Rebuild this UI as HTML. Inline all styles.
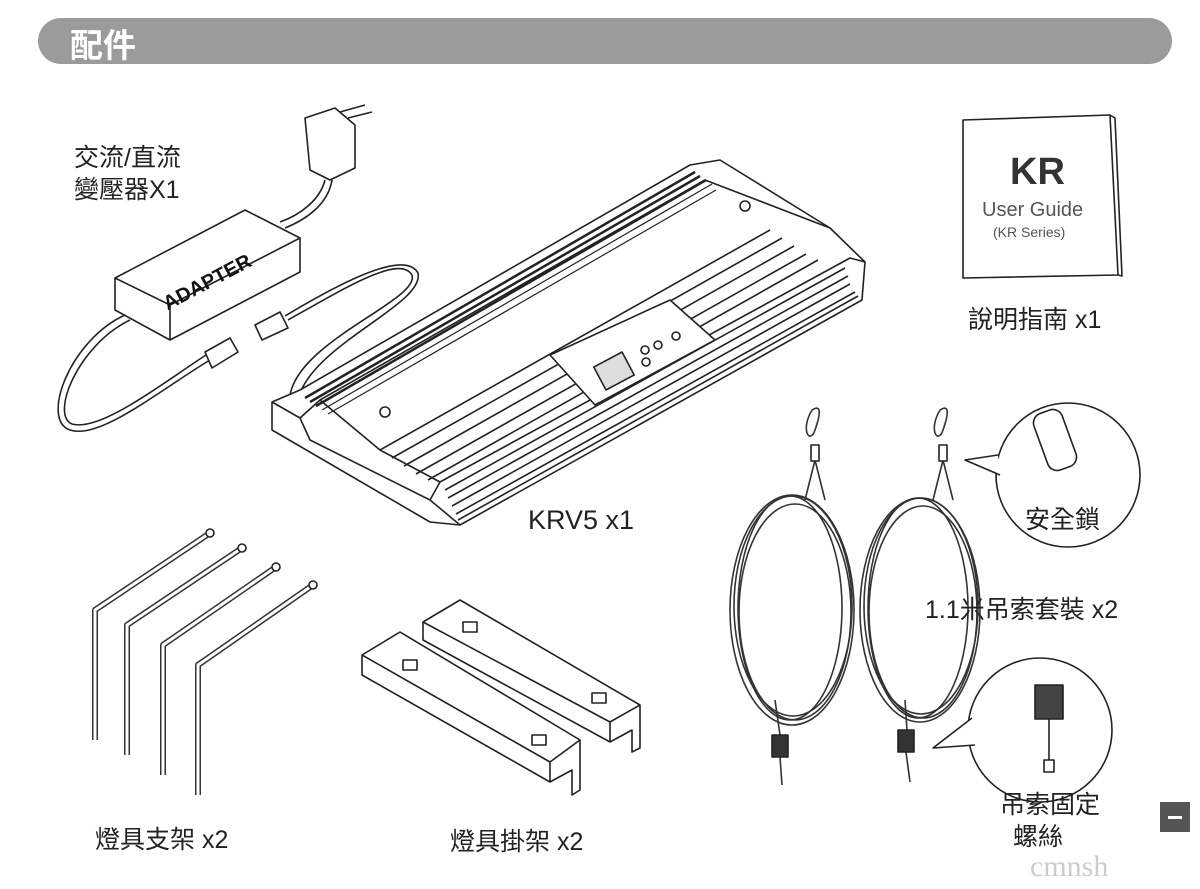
<!DOCTYPE html>
<html><head><meta charset="utf-8"><style>
html,body{margin:0;padding:0;background:#fff}
body{width:1200px;height:889px;position:relative;overflow:hidden;font-family:"Liberation Sans","Noto Sans CJK TC",sans-serif}
.t{position:absolute;color:#222;font-size:25px;white-space:nowrap}
</style></head><body>
<div style="position:absolute;left:38px;top:18px;width:1134px;height:46px;border-radius:23px;background:#9b9b9b"></div>
<div class="t" style="left:70px;top:19px;color:#fff;font-size:33px;font-weight:bold">配件</div>

<svg width="1200" height="889" style="position:absolute;left:0;top:0" fill="none" stroke="#222" stroke-width="1.6" stroke-linejoin="round">
<!-- plug -->
<path d="M305 118 L335 108 L355 125 L355 168 L330 180 L310 170 Z" fill="#fff"/>
<path d="M340 112 L365 105 M348 118 L372 112"/>
<path d="M325 180 C320 200 300 215 280 222"/>
<path d="M332 180 C328 205 305 220 285 228"/>
<!-- adapter -->
<path d="M115 278 L245 210 L300 238 L300 272 L170 340 L115 310 Z" fill="#fff"/>
<path d="M115 278 L170 305 L300 238 M170 305 L170 340"/>
<text x="150" y="290" transform="rotate(-28 200 265)" font-size="20" font-weight="bold" fill="#111" stroke="none" font-family="Liberation Sans">ADAPTER</text>
<path d="M125 315 C70 340 40 420 70 430 C100 440 160 390 210 360"/>
<path d="M130 320 C78 345 50 415 72 424 C100 432 160 385 206 355"/>
<path d="M205 352 L230 338 L238 352 L212 368 Z" fill="#fff"/>
<path d="M255 325 L280 312 L288 328 L262 340 Z" fill="#fff"/>
<path d="M288 320 C350 285 400 255 412 275 C420 300 300 340 290 395"/>
<path d="M285 316 C345 280 405 250 418 273 C425 305 310 345 298 400"/>
<!-- light body -->
<path d="M272 402 L300 390 L690 165 L720 160 L830 228 L865 262 L862 300 L460 525 L430 522 L272 430 Z" fill="#fff"/>
<path d="M272 402 L300 418 L310 440 L430 500 L460 525"/>
<path d="M300 418 L320 400 L705 180 L830 228"/>
<path d="M430 500 L440 482 L850 258 L865 262 M440 482 L380 450 L320 400"/>
<path d="M445 490 L845 268 M448 498 L848 276 M452 506 L850 284 M456 514 L855 292 M458 520 L858 296"/>
<path d="M380 450 L770 230 M392 458 L782 238 M404 466 L794 246 M416 474 L806 254 M428 480 L818 260"/>
<path d="M305 398 L695 172 M310 402 L700 176 M316 406 L706 180" stroke-width="2.5"/>
<path d="M322 410 L712 184 M328 414 L716 190" stroke-width="1.2"/>
<path d="M550 355 L670 300 L715 340 L595 405 Z" fill="#fff"/>
<rect x="598" y="358" width="32" height="26" transform="rotate(-28 614 371)" fill="#ddd"/>
<circle cx="645" cy="350" r="4"/><circle cx="658" cy="345" r="4"/><circle cx="676" cy="336" r="4"/><circle cx="646" cy="362" r="4"/>
<circle cx="385" cy="412" r="5"/><circle cx="745" cy="206" r="5"/>
<!-- manual -->
<path d="M963 120 L1110 115 L1118 275 L963 278 Z" fill="#fff"/>
<path d="M1110 115 L1115 118 L1122 276 L1118 275"/>
<text x="1010" y="184" font-size="38" font-weight="bold" fill="#333" stroke="none" font-family="Liberation Sans">KR</text>
<text x="982" y="216" font-size="20" fill="#555" stroke="none" font-family="Liberation Sans">User Guide</text>
<text x="993" y="237" font-size="14" fill="#555" stroke="none" font-family="Liberation Sans">(KR Series)</text>
<!-- wires -->
<g stroke="#333">
<path d="M812 410 C800 430 810 445 815 430 C822 410 820 405 812 410"/>
<path d="M940 410 C928 430 938 445 943 430 C950 410 948 405 940 410"/>
<path d="M815 460 L805 500 M815 460 L825 500 M943 460 L933 500 M943 460 L953 500"/>
<ellipse cx="792" cy="610" rx="62" ry="115"/><ellipse cx="795" cy="612" rx="56" ry="108"/><ellipse cx="790" cy="608" rx="52" ry="112"/><ellipse cx="793" cy="606" rx="59" ry="110"/>
<ellipse cx="920" cy="610" rx="60" ry="112"/><ellipse cx="923" cy="612" rx="54" ry="106"/><ellipse cx="918" cy="608" rx="50" ry="110"/><ellipse cx="921" cy="606" rx="57" ry="108"/>
<path d="M775 700 L780 735 M905 700 L907 730 M780 757 L782 785 M906 752 L910 782"/>
</g>
<rect x="772" y="735" width="16" height="22" fill="#333"/><rect x="898" y="730" width="16" height="22" fill="#333"/>
<rect x="811" y="445" width="8" height="16" fill="#fff"/><rect x="939" y="445" width="8" height="16" fill="#fff"/>
<!-- bubbles -->
<circle cx="1068" cy="475" r="72" fill="#fff"/>
<path d="M998 455 L965 460 L1000 475" fill="#fff"/>
<rect x="1040" y="410" width="30" height="60" rx="10" transform="rotate(-20 1055 440)"/>
<circle cx="1040" cy="730" r="72" fill="#fff"/>
<path d="M972 718 L933 748 L975 745" fill="#fff"/>
<rect x="1035" y="685" width="28" height="34" fill="#444"/><path d="M1049 719 L1049 760"/><rect x="1044" y="760" width="10" height="12"/>
<!-- rods -->
<g stroke-width="6" stroke="#333"><path d="M95 740 L95 610 L210 533"/><path d="M127 755 L127 625 L242 548"/><path d="M163 775 L163 645 L276 567"/><path d="M198 795 L198 665 L313 585"/></g>
<g stroke-width="3" stroke="#fff"><path d="M95 740 L95 610 L210 533"/><path d="M127 755 L127 625 L242 548"/><path d="M163 775 L163 645 L276 567"/><path d="M198 795 L198 665 L313 585"/></g>
<g fill="#fff"><circle cx="210" cy="533" r="4"/><circle cx="242" cy="548" r="4"/><circle cx="276" cy="567" r="4"/><circle cx="313" cy="585" r="4"/></g>
<!-- brackets -->
<path d="M362 655 L400 632 L580 740 L580 790 L572 795 L572 770 L550 782 L362 675 Z" fill="#fff"/>
<path d="M362 655 L550 762 L580 740 M550 762 L550 782"/>
<path d="M423 622 L460 600 L640 705 L640 748 L632 752 L632 730 L610 742 L423 640 Z" fill="#fff"/>
<path d="M423 622 L610 722 L640 705 M610 722 L610 742"/>
<rect x="403" y="660" width="14" height="10"/><rect x="532" y="735" width="14" height="10"/><rect x="463" y="622" width="14" height="10"/><rect x="592" y="693" width="14" height="10"/>
</svg>

<div class="t" style="left:74px;top:138px">交流/直流</div>
<div class="t" style="left:74px;top:170px">變壓器X1</div>
<div class="t" style="left:968px;top:300px">說明指南 x1</div>
<div class="t" style="left:528px;top:505px;font-size:27px">KRV5 x1</div>
<div class="t" style="left:1025px;top:500px">安全鎖</div>
<div class="t" style="left:925px;top:590px">1.1米吊索套裝 x2</div>
<div class="t" style="left:1000px;top:785px">吊索固定</div>
<div class="t" style="left:1013px;top:817px">螺絲</div>
<div class="t" style="left:95px;top:820px">燈具支架 x2</div>
<div class="t" style="left:450px;top:822px">燈具掛架 x2</div>
<div style="position:absolute;left:1160px;top:802px;width:30px;height:30px;background:#555"></div>
<div style="position:absolute;left:1168px;top:816px;width:14px;height:3px;background:#fff"></div>
<div class="t" style="left:1030px;top:850px;color:#ccc;font-size:30px;font-family:'Liberation Serif',serif">cmnsh</div>
</body></html>
